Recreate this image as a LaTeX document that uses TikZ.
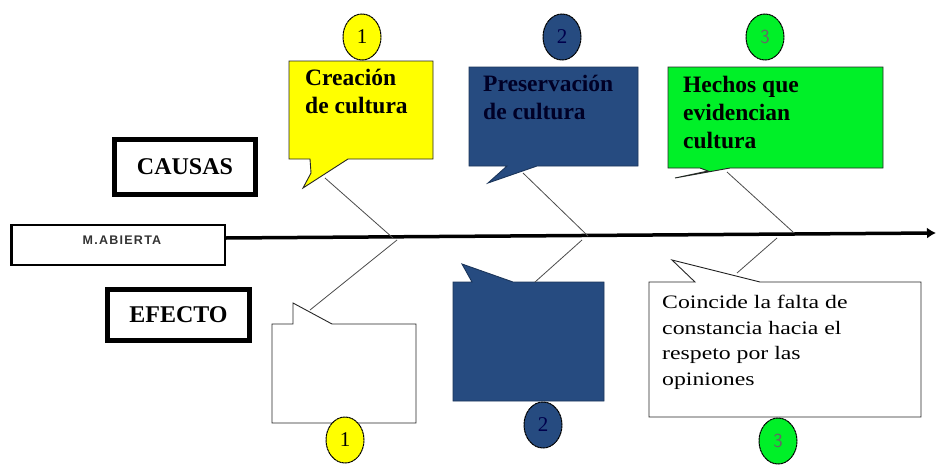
\documentclass[tikz,border=0pt]{standalone}
\usepackage{fontspec}
\setmainfont{Liberation Serif}
\newfontfamily\wideserif[FakeStretch=1.25]{Liberation Serif}
\newfontfamily\spacedsans[LetterSpace=10]{Liberation Sans}
\usetikzlibrary{arrows.meta,shapes.geometric}
\definecolor{cyel}{RGB}{255,255,0}
\definecolor{cblue}{RGB}{38,75,128}
\definecolor{cgreen}{RGB}{0,240,40}
\begin{document}
\begin{tikzpicture}[x=1pt,y=-1pt,
  callout/.style={draw=black!85,line width=0.9pt,line join=miter},
  bone/.style={draw=black!70,line width=0.8pt},
  num/.style={ellipse,draw=black,line width=1pt,dash pattern=on 2.5pt off 0.5pt,minimum width=38pt,minimum height=46pt,inner sep=0pt,font=\fontsize{21}{21}\selectfont},
  headtxt/.style={anchor=north west,align=left,inner sep=0pt,font=\bfseries\fontsize{23.5}{28}\selectfont},
  tagbox/.style={draw=black,line width=5pt,inner sep=0pt,font=\bfseries\fontsize{24}{24}\selectfont}]
\useasboundingbox (0,0) rectangle (936,466);
\fill[white] (0,0) rectangle (936,466);

% main axis
\node[draw=black,line width=1.4pt,minimum width=213pt,minimum height=40pt,inner sep=0pt] (mab) at (118.5,245) {};
\node[font=\spacedsans\bfseries\fontsize{12.5}{12.5}\selectfont,text=black!80] (mabt) at (122,240) {M.ABIERTA};
\draw[black,line width=1.8pt] (mab.north west) -- (mab.south west);
\coordinate (axend) at (936,233);
\draw[line width=3.5pt,-{Latex[length=9pt,width=11pt]}] (mab.east |- 0,238) -- (axend);

% CAUSAS / EFECTO
\node[tagbox,minimum width=141pt,minimum height=55pt] (causas) at (185,167) {CAUSAS};
\node[tagbox,minimum width=142pt,minimum height=51pt] (efecto) at (178.5,315) {EFECTO};

% top callouts
\fill[cyel,callout] (289,61) -- (433,61) -- (433,159) -- (348,159) -- (303,188) -- (311,173) -- (310,159) -- (289,159) -- cycle;
\coordinate (t1) at (325,178);
\node[headtxt] (txt1) at (305,69) {Creación\\de cultura};

\fill[cblue,callout,draw=cblue!70!black] (469,67) -- (638,67) -- (638,166) -- (537,166) -- (488,183) -- (507,166) -- (469,166) -- cycle;
\coordinate (t2) at (523,173);
\node[headtxt,text=black!85!blue] (txt2) at (483,75) {Preservación\\de cultura};

\fill[cgreen,callout] (668,67) -- (883,67) -- (883,168) -- (730,168) -- (675,178) -- (708,171) -- (700,168) -- (668,168) -- cycle;
\coordinate (t3) at (727,172);
\node[headtxt] (txt3) at (683,76) {Hechos que\\evidencian\\cultura};

% top number circles
\node[num,fill=cyel] (c1) at (362,37) {1};
\node[num,fill=cblue,text=black!70!blue] (c2) at (562,37) {2};
\node[num,fill=cgreen,font=\sffamily\fontsize{20}{20}\selectfont,text=black!60] (c3) at (765,37) {3};

% bottom callouts
\fill[white,callout] (272,324) -- (293,324) -- (293,303) -- (332,324) -- (416,324) -- (416,423) -- (272,423) -- cycle;
\coordinate (b1) at (310,310);
\fill[cblue,callout,draw=cblue!70!black] (453,282) -- (472,282) -- (462,264) -- (513,282) -- (604,282) -- (604,401) -- (453,401) -- cycle;
\coordinate (b2) at (535,282);
\fill[white,callout] (649,282) -- (695,282) -- (672,260) -- (760,282) -- (921,282) -- (921,417) -- (649,417) -- cycle;
\coordinate (b3) at (737,273);
\node[anchor=north west,align=left,inner sep=0pt,font=\wideserif\fontsize{19}{25.5}\selectfont] (txt4) at (662,295) {Coincide la falta de\\constancia hacia el\\respeto por las\\opiniones};

% bottom number circles
\node[num,fill=cyel] (d1) at (345,440) {1};
\node[num,fill=cblue,text=black!70!blue] (d2) at (543,425) {2};
\node[num,fill=cgreen,font=\sffamily\fontsize{20}{20}\selectfont,text=black!60] (d3) at (778,441) {3};

% bones
\coordinate (a1) at (393,238);
\coordinate (a1b) at (397,240);
\coordinate (a2) at (588,236);
\coordinate (a2b) at (582,240);
\coordinate (a3) at (793,232);
\coordinate (a3b) at (777,238);
\draw[bone] (t1) -- (a1);
\draw[bone] (a1b) -- (b1);
\draw[bone] (t2) -- (a2);
\draw[bone] (a2b) -- (b2);
\draw[bone] (t3) -- (a3);
\draw[bone] (a3b) -- (b3);
\end{tikzpicture}
\end{document}
